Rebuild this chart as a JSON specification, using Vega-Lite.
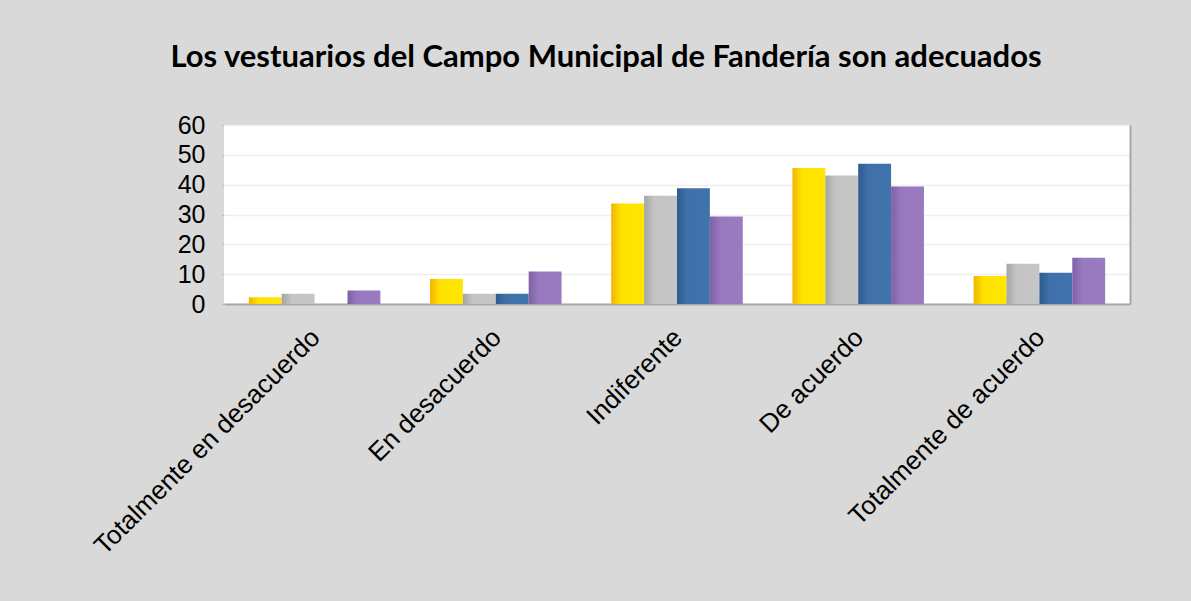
{
  "$schema": "https://vega.github.io/schema/vega-lite/v6.json",
  "width": 906,
  "height": 179,
  "autosize": {"type": "none"},
  "padding": {"left": 224, "top": 125, "right": 61, "bottom": 297},
  "background": "#d9d9d9",
  "title": {
    "text": "Los vestuarios del Campo Municipal de Fandería son adecuados",
    "font": "Lato",
    "fontSize": 31,
    "fontWeight": "bold",
    "color": "#000000",
    "anchor": "middle",
    "dx": -71,
    "offset": 39
  },
  "data": {
    "values": [
      {"categoria": "Totalmente en desacuerdo", "serie": "Serie 1", "valor": 2.3},
      {"categoria": "Totalmente en desacuerdo", "serie": "Serie 2", "valor": 3.4},
      {"categoria": "Totalmente en desacuerdo", "serie": "Serie 3", "valor": 0},
      {"categoria": "Totalmente en desacuerdo", "serie": "Serie 4", "valor": 4.5},
      {"categoria": "En desacuerdo", "serie": "Serie 1", "valor": 8.4},
      {"categoria": "En desacuerdo", "serie": "Serie 2", "valor": 3.4},
      {"categoria": "En desacuerdo", "serie": "Serie 3", "valor": 3.4},
      {"categoria": "En desacuerdo", "serie": "Serie 4", "valor": 10.9},
      {"categoria": "Indiferente", "serie": "Serie 1", "valor": 33.7},
      {"categoria": "Indiferente", "serie": "Serie 2", "valor": 36.3},
      {"categoria": "Indiferente", "serie": "Serie 3", "valor": 38.8},
      {"categoria": "Indiferente", "serie": "Serie 4", "valor": 29.3},
      {"categoria": "De acuerdo", "serie": "Serie 1", "valor": 45.6},
      {"categoria": "De acuerdo", "serie": "Serie 2", "valor": 43.1},
      {"categoria": "De acuerdo", "serie": "Serie 3", "valor": 47.0},
      {"categoria": "De acuerdo", "serie": "Serie 4", "valor": 39.4},
      {"categoria": "Totalmente de acuerdo", "serie": "Serie 1", "valor": 9.4},
      {"categoria": "Totalmente de acuerdo", "serie": "Serie 2", "valor": 13.5},
      {"categoria": "Totalmente de acuerdo", "serie": "Serie 3", "valor": 10.5},
      {"categoria": "Totalmente de acuerdo", "serie": "Serie 4", "valor": 15.5}
    ]
  },
  "config": {
    "view": {"fill": "#ffffff", "stroke": null}
  },
  "encoding": {
    "x": {
      "field": "categoria",
      "type": "nominal",
      "sort": ["Totalmente en desacuerdo", "En desacuerdo", "Indiferente", "De acuerdo", "Totalmente de acuerdo"],
      "scale": {"paddingInner": 0.274, "paddingOuter": 0.137},
      "axis": {
        "title": null,
        "labelAngle": -45,
        "labelAlign": "right",
        "labelBaseline": "top",
        "labelFont": "Liberation Sans",
        "labelFontSize": 26,
        "labelColor": "#000000",
        "labelPadding": 20,
        "labelOffset": -8,
        "labelLimit": 400,
        "ticks": false,
        "domainColor": "#a6a6a6",
        "domainWidth": 2
      }
    },
    "xOffset": {"field": "serie", "type": "nominal", "scale": {"domain": ["Serie 1", "Serie 2", "Serie 3", "Serie 4"]}},
    "y": {
      "field": "valor",
      "type": "quantitative",
      "scale": {"domain": [0, 60], "nice": false}
    }
  },
  "layer": [
    {
      "transform": [{"filter": "datum.serie == 'Serie 1'"}],
      "mark": {
        "type": "bar",
        "color": {"gradient": "linear", "x1": 0, "x2": 1, "y1": 0, "y2": 0,
          "stops": [{"offset": 0, "color": "#f2b400"}, {"offset": 0.3, "color": "#ffe200"}, {"offset": 1, "color": "#ffe600"}]}
      },
      "encoding": {
        "y": {
          "field": "valor",
          "type": "quantitative",
          "axis": {
            "title": null,
            "values": [0, 10, 20, 30, 40, 50, 60],
            "labelFont": "Liberation Sans",
            "labelFontSize": 25,
            "labelColor": "#000000",
            "labelPadding": 17,
            "tickSize": 2,
            "tickColor": "#bbbbbb",
            "domain": false,
            "gridColor": "#efefef",
            "gridWidth": 1.5
          }
        }
      }
    },
    {
      "transform": [{"filter": "datum.serie == 'Serie 2'"}],
      "mark": {
        "type": "bar",
        "color": {"gradient": "linear", "x1": 0, "x2": 1, "y1": 0, "y2": 0,
          "stops": [{"offset": 0, "color": "#a4a4a4"}, {"offset": 0.3, "color": "#c4c4c4"}, {"offset": 1, "color": "#c6c6c6"}]}
      },
      "encoding": {
        "y": {
          "field": "valor",
          "type": "quantitative",
          "axis": {
            "orient": "right",
            "title": null,
            "labels": false,
            "ticks": false,
            "grid": false,
            "domain": true,
            "domainColor": "#a6a6a6",
            "domainWidth": 2
          }
        }
      }
    },
    {
      "transform": [{"filter": "datum.serie == 'Serie 3'"}],
      "mark": {
        "type": "bar",
        "color": {"gradient": "linear", "x1": 0, "x2": 1, "y1": 0, "y2": 0,
          "stops": [{"offset": 0, "color": "#2f5b8e"}, {"offset": 0.3, "color": "#3f70aa"}, {"offset": 1, "color": "#4072ab"}]}
      },
      "encoding": {"y": {"field": "valor", "type": "quantitative", "axis": null}}
    },
    {
      "transform": [{"filter": "datum.serie == 'Serie 4'"}],
      "mark": {
        "type": "bar",
        "color": {"gradient": "linear", "x1": 0, "x2": 1, "y1": 0, "y2": 0,
          "stops": [{"offset": 0, "color": "#7e62a5"}, {"offset": 0.3, "color": "#9878be"}, {"offset": 1, "color": "#9a7bc0"}]}
      },
      "encoding": {"y": {"field": "valor", "type": "quantitative", "axis": null}}
    }
  ],
  "resolve": {"axis": {"y": "independent"}}
}
